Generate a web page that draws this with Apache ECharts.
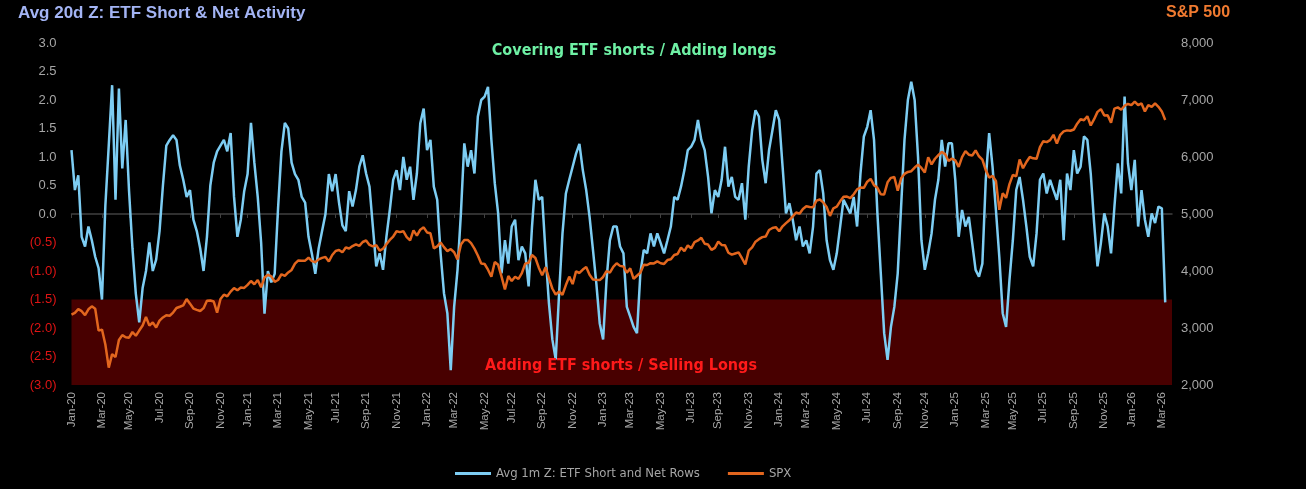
<!DOCTYPE html>
<html><head><meta charset="utf-8">
<script src="https://cdn.jsdelivr.net/npm/echarts@6/dist/echarts.min.js"></script>
<style>html,body{margin:0;padding:0;background:#000;} #c{width:1306px;height:489px;}</style>
</head><body><div id="c"></div>
<script>
// Weekly observations (Fridays) starting 2020-01-03
const startDate = '2020-01-03';
const axisWeeks = 326; // axis runs two weeks beyond the last observation

const zScore = [
 1.12,0.42,0.68,-0.40,-0.57,-0.22,-0.46,-0.75,-0.95,-1.50,
 0.15,1.20,2.26,0.25,2.20,0.80,1.65,0.40,-0.60,-1.40,
 -1.90,-1.30,-1.00,-0.50,-1.00,-0.80,-0.30,0.50,1.20,1.30,
 1.38,1.30,0.85,0.60,0.30,0.42,-0.10,-0.30,-0.60,-1.00,
 -0.40,0.50,0.90,1.10,1.20,1.30,1.10,1.42,0.30,-0.40,
 -0.10,0.40,0.70,1.60,0.90,0.30,-0.50,-1.75,-1.00,-1.20,
 -1.05,0.10,1.10,1.60,1.50,0.90,0.70,0.60,0.30,0.20,
 -0.40,-0.70,-1.05,-0.60,-0.30,0.00,0.70,0.40,0.70,0.20,
 -0.20,-0.30,0.40,0.13,0.42,0.83,1.03,0.71,0.48,-0.22,
 -0.92,-0.69,-0.98,-0.40,0.07,0.60,0.77,0.42,1.00,0.60,
 0.83,0.25,0.71,1.59,1.85,1.12,1.30,0.48,0.25,-0.69,
 -1.39,-1.74,-2.74,-1.63,-0.98,0.01,1.24,0.83,1.12,0.71,
 1.71,2.00,2.06,2.23,1.30,0.54,0.01,-1.04,-0.46,-0.87,
 -0.22,-0.10,-0.81,-0.57,-0.69,-1.27,-0.22,0.60,0.25,0.30,
 -0.69,-1.57,-2.20,-2.55,-1.39,-0.34,0.36,0.60,0.83,1.06,
 1.23,0.77,0.42,-0.05,-0.63,-1.22,-1.92,-2.20,-1.16,-0.46,
 -0.22,-0.22,-0.57,-0.69,-1.63,-1.80,-1.98,-2.09,-1.04,-0.63,
 -0.69,-0.34,-0.57,-0.34,-0.51,-0.69,-0.46,-0.22,0.30,0.25,
 0.48,0.77,1.12,1.18,1.30,1.65,1.30,1.12,0.65,0.01,
 0.42,0.30,0.60,1.18,0.48,0.65,0.30,0.25,0.54,-0.10,
 0.83,1.47,1.82,1.71,0.95,0.54,1.12,1.47,1.82,1.65,
 0.83,0.01,0.19,-0.10,-0.46,-0.22,-0.57,-0.46,-0.69,-0.22,
 0.71,0.77,0.36,-0.46,-0.81,-0.98,-0.69,-0.22,0.25,0.13,
 0.01,0.30,-0.22,0.71,1.36,1.53,1.82,1.30,0.01,-1.04,
 -2.09,-2.56,-1.98,-1.63,-1.04,0.13,1.30,2.00,2.32,2.00,
 1.00,-0.46,-0.98,-0.69,-0.34,0.25,0.60,1.30,0.83,1.24,
 1.24,0.60,-0.40,0.07,-0.22,-0.05,-0.51,-0.98,-1.10,-0.87,
 0.60,1.42,0.83,0.07,-0.75,-1.74,-1.98,-1.16,-0.46,0.42,
 0.65,0.25,-0.22,-0.75,-0.92,-0.34,0.60,0.71,0.36,0.60,
 0.42,0.25,0.60,-0.46,0.71,0.42,1.12,0.71,0.83,1.36,
 1.30,0.71,-0.16,-0.92,-0.51,0.01,-0.22,-0.69,0.13,0.89,
 0.36,2.06,0.89,0.42,0.95,-0.22,0.42,-0.10,-0.40,0.01,
 -0.16,0.13,0.10,-1.55
];

const spx = [
 3235,3265,3330,3295,3225,3328,3380,3338,2954,2972,2711,2305,2541,
 2489,2790,2875,2837,2830,2930,2864,2955,3044,3193,3041,3098,3009,
 3130,3185,3224,3215,3271,3351,3373,3397,3508,3427,3341,3319,3298,
 3348,3477,3483,3465,3270,3509,3585,3557,3638,3699,3663,3709,3703,
 3756,3825,3768,3841,3714,3887,3934,3907,3811,3842,3943,3913,3975,
 4019,4129,4185,4180,4181,4233,4174,4156,4204,4230,4247,4166,4281,
 4352,4370,4327,4412,4395,4437,4468,4441,4509,4535,4458,4433,4455,4357,
 4391,4471,4545,4605,4697,4682,4698,4594,4538,4712,4620,4725,4766,
 4677,4663,4398,4432,4500,4419,4349,4385,4329,4204,4463,4543,
 4546,4488,4392,4272,4132,4123,4023,3901,4158,4109,3901,3675,3911,
 3825,3899,3863,3962,4130,4145,4280,4228,4058,3924,4067,3873,3693,3586,
 3640,3583,3753,3901,3771,3993,3965,4026,4071,3934,3852,3845,3840,
 3895,3999,3973,4071,4136,4090,4079,3970,4046,3862,3917,3971,4109,
 4105,4138,4133,4169,4136,4124,4192,4205,4282,4299,4409,4348,4450,
 4398,4505,4536,4582,4478,4464,4370,4406,4515,4457,4450,4320,4288,
 4308,4327,4224,4117,4358,4415,4514,4559,4594,4604,4719,4754,4770,
 4697,4784,4840,4891,4959,5027,5006,5089,5137,5124,5117,5234,5254,
 5204,5123,4967,5100,5128,5223,5303,5305,5278,5347,5432,5465,5460,
 5567,5615,5505,5459,5346,5344,5555,5634,5648,5408,5626,5703,5738,
 5751,5815,5864,5808,5729,5996,5870,5969,6032,6090,6051,5931,5971,
 5942,5827,5997,6101,6040,6026,6115,6013,5955,5770,5639,5668,5581,
 5074,5363,5283,5525,5687,5660,5958,5803,5912,6000,5977,5968,6173,
 6279,6260,6297,6389,6238,6389,6449,6467,6460,6482,6584,6664,6644,
 6716,6553,6664,6792,6840,6729,6734,6603,6849,6870,6830,6900,6930,
 6910,6970,6910,6940,6800,6910,6880,6940,6880,6800,6650
];

const leftAxis = {min: -3, max: 3, step: 0.5};
const rightAxis = {min: 2000, max: 8000, step: 1000};
const monthNames = ['Jan','Feb','Mar','Apr','May','Jun','Jul','Aug','Sep','Oct','Nov','Dec'];

const weeks = [];
{
  const t0 = Date.parse(startDate + 'T00:00:00Z');
  for (let i = 0; i < axisWeeks; i++) {
    weeks.push(new Date(t0 + i * 7 * 86400000).toISOString().slice(0, 10));
  }
}
function isLabelWeek(idx, val) {
  const d = new Date(val + 'T00:00:00Z');
  return d.getUTCDate() <= 7 && d.getUTCMonth() % 2 === 0;
}
function fmtWeek(val) {
  const d = new Date(val + 'T00:00:00Z');
  return monthNames[d.getUTCMonth()] + '-' + String(d.getUTCFullYear()).slice(2);
}

const FONT = "'Liberation Sans', Arial, sans-serif";
const NARROW = "'Liberation Sans Narrow', 'DejaVu Sans Condensed', 'Liberation Sans', sans-serif";
const chart = echarts.init(document.getElementById('c'), null, {renderer: 'canvas'});
chart.setOption({
  backgroundColor: '#000000',
  animation: false,
  grid: {left: 71.5, right: 134, top: 43, bottom: 104, containLabel: false},
  legend: {
    left: 450, top: 462, icon: 'rect', itemWidth: 36, itemHeight: 3, itemGap: 28,
    textStyle: {color: '#a6a6a6', fontSize: 13, fontFamily: NARROW},
    data: ['Avg 1m Z: ETF Short and Net Rows', 'SPX']
  },
  xAxis: [
    {
      type: 'category', data: weeks, boundaryGap: false, position: 'bottom',
      axisLine: {show: false, onZero: false}, axisTick: {show: false}, splitLine: {show: false},
      axisLabel: {interval: isLabelWeek, formatter: fmtWeek, rotate: 90, color: '#a6a6a6',
        fontSize: 11.5, margin: 7, fontFamily: FONT}
    },
    {
      type: 'category', data: weeks, boundaryGap: false, position: 'top',
      axisLine: {show: true, onZero: true, onZeroAxisIndex: 0, lineStyle: {color: '#404040', width: 1.5}},
      axisTick: {show: true, interval: isLabelWeek, inside: true, length: 4, lineStyle: {color: '#404040', width: 1}},
      axisLabel: {show: false}, splitLine: {show: false}
    }
  ],
  yAxis: [
    {
      type: 'value', min: leftAxis.min, max: leftAxis.max, interval: leftAxis.step, position: 'left',
      axisLine: {show: false}, axisTick: {show: false}, splitLine: {show: false},
      axisLabel: {
        margin: 15, fontSize: 13, fontFamily: FONT,
        formatter: v => v < 0 ? '(' + Math.abs(v).toFixed(1) + ')' : v.toFixed(1),
        color: v => (+v < 0 ? '#e01414' : '#a6a6a6')
      }
    },
    {
      type: 'value', min: rightAxis.min, max: rightAxis.max, interval: rightAxis.step, position: 'right',
      axisLine: {show: false}, axisTick: {show: false}, splitLine: {show: false},
      axisLabel: {margin: 9, fontSize: 13, fontFamily: FONT, color: '#a6a6a6',
        formatter: v => v.toLocaleString('en-US')}
    }
  ],
  series: [
    {
      name: 'Avg 1m Z: ETF Short and Net Rows', type: 'line', xAxisIndex: 0, yAxisIndex: 0,
      data: zScore, showSymbol: false, symbol: 'none', z: 2,
      lineStyle: {color: '#7dcdf3', width: 2.5}, itemStyle: {color: '#7dcdf3'},
      markArea: {silent: true, z: 1, itemStyle: {color: '#480000'},
        data: [[{yAxis: -1.5}, {yAxis: -3}]]}
    },
    {
      name: 'SPX', type: 'line', xAxisIndex: 0, yAxisIndex: 1,
      data: spx, showSymbol: false, symbol: 'none', z: 3,
      lineStyle: {color: '#e2661e', width: 2.5}, itemStyle: {color: '#e2661e'}
    }
  ],
  graphic: [
    {type: 'text', x: 18, y: 13, z: 100, style: {text: 'Avg 20d Z: ETF Short & Net Activity',
      fill: '#a3b4f4', font: "600 17px " + FONT, verticalAlign: 'middle', align: 'left'}},
    {type: 'text', x: 1166, y: 13, z: 100, style: {text: 'S&P 500',
      fill: '#f07a30', font: "bold 16px " + FONT, verticalAlign: 'middle', align: 'left'}},
    {type: 'text', x: 634, y: 51, z: 100, style: {text: 'Covering ETF shorts / Adding longs',
      fill: '#6ef0a4', font: "bold 16px " + NARROW, verticalAlign: 'middle', align: 'center'}},
    {type: 'text', x: 621, y: 366, z: 100, style: {text: 'Adding ETF shorts / Selling Longs',
      fill: '#ff1a1a', font: "bold 16px " + NARROW, verticalAlign: 'middle', align: 'center'}}
  ]
});
</script></body></html>
